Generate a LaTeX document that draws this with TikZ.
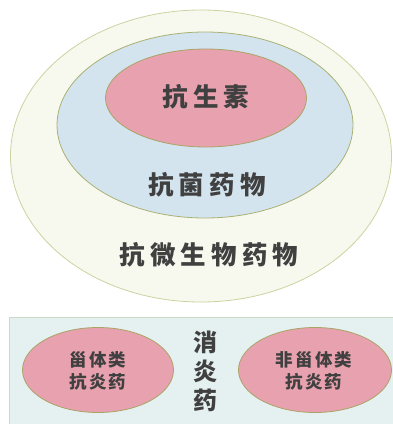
\documentclass[tikz,border=0pt]{standalone}
\usepackage{fontspec}
\newfontfamily\cjk{Noto Sans CJK SC}
\newcommand\ksp{\hspace{0.2em}}
\newcommand\ksq{\hspace{0.12em}}
\definecolor{outerfill}{HTML}{F8F9EE}
\definecolor{outerline}{HTML}{CDD2A0}
\definecolor{bluefill}{HTML}{D3E4EF}
\definecolor{blueline}{HTML}{A9B274}
\definecolor{pinkfill}{HTML}{E8A2AF}
\definecolor{pinkline}{HTML}{A9A466}
\definecolor{boxfill}{HTML}{E5F0F1}
\definecolor{boxline}{HTML}{CADDC2}
\definecolor{txt}{HTML}{404040}
\tikzset{
  ring/.style={ellipse, draw, line width=0.8pt, inner sep=0pt},
  lab/.style={font=\cjk\bfseries, text=txt, inner sep=0pt},
}
\usetikzlibrary{shapes.geometric}
\begin{document}
\begin{tikzpicture}[x=1pt,y=-1pt]
\useasboundingbox (0,0) rectangle (393,424);
\fill[white] (0,0) rectangle (393,424);
% nested ellipses
\node[ring, fill=outerfill, draw=outerline, minimum width=381pt, minimum height=292pt] (outer) at (201,156) {};
\node[ring, fill=bluefill, draw=blueline, minimum width=296pt, minimum height=186pt] (mid) at (205,125) {};
\node[ring, fill=pinkfill, draw=pinkline, minimum width=201pt, minimum height=98pt] (inner) at (206,98) {};
\node[lab, font=\cjk\bfseries\fontsize{25.5}{28}\selectfont] (t1) at (206,97) {抗\ksp 生\ksp 素};
\node[lab, font=\cjk\bfseries\fontsize{25.5}{28}\selectfont] (t2) at (207,185) {抗\ksp 菌\ksp 药\ksp 物};
\node[lab, font=\cjk\bfseries\fontsize{25.5}{28}\selectfont] (t3) at (209,255) {抗\ksp 微\ksp 生\ksp 物\ksp 药\ksp 物};
% bottom box
\node[draw=boxline, fill=boxfill, line width=0.8pt, minimum width=386pt, minimum height=110pt, inner sep=0pt, anchor=north west] (box) at (9,317) {};
\node[ring, fill=pinkfill, draw=pinkline, minimum width=151pt, minimum height=85pt] (left) at (98,370) {};
\node[ring, fill=pinkfill, draw=pinkline, minimum width=153pt, minimum height=85pt] (right) at (315,370) {};
\node[lab, font=\cjk\bfseries\fontsize{17.5}{22}\selectfont, align=center] (lt) at (98,371) {甾\ksq 体\ksq 类\\[0pt]抗\ksq 炎\ksq 药};
\node[lab, font=\cjk\bfseries\fontsize{17.5}{22}\selectfont, align=center] (rt) at (314,371) {非\ksq 甾\ksq 体\ksq 类\\[0pt]抗\ksq 炎\ksq 药};
\node[lab, font=\cjk\bfseries\fontsize{24}{29}\selectfont, align=center] (mt) at (205,371) {消\\炎\\药};
\end{tikzpicture}
\end{document}
